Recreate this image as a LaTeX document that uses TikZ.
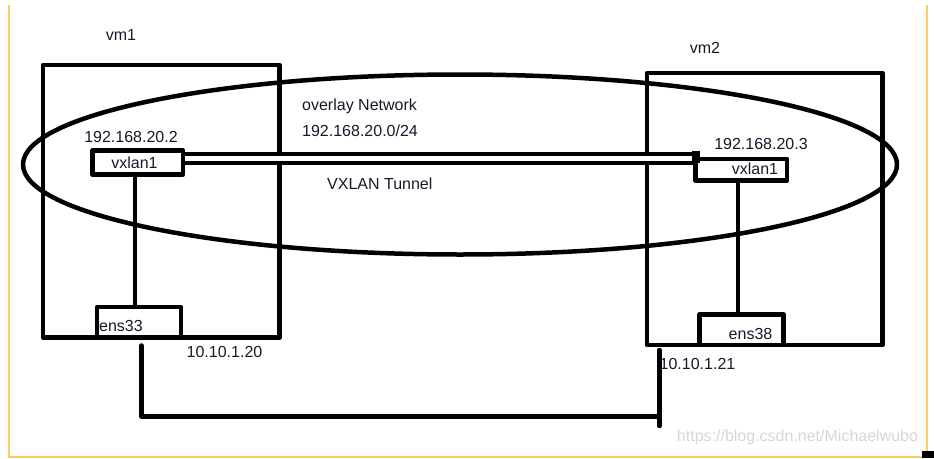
\documentclass[tikz,border=0pt]{standalone}
\usepackage{fontspec}
\setmainfont{Liberation Sans}
\usepackage{xcolor}
\usepackage{tikz}
\usetikzlibrary{calc}
\definecolor{frameyellow}{RGB}{250,206,92}
\definecolor{labelink}{RGB}{22,24,44}
\definecolor{markgray}{RGB}{214,214,214}

\begin{document}
\begin{tikzpicture}[x=1pt,y=-1pt,line join=round,
  vmbox/.style={draw,rectangle,line width=4.5pt,inner sep=0pt},
  ifbox/.style={draw,rectangle,line width=4.5pt,inner sep=0pt},
  lbl/.style={inner sep=0pt,anchor=base,text=labelink,font=\fontsize{16}{19}\selectfont},
  wire/.style={line width=4.5pt,line cap=round}]
  \useasboundingbox (0,0) rectangle (934,458);
  \coordinate (OV) at (460,164.5);
  \coordinate (U1) at (141.5,345.5);
  \coordinate (U2) at (659.3,416.5);
  \coordinate (U3) at (659.3,350);
  \coordinate (U4) at (659.3,426);
  \draw[frameyellow,line width=1.8pt] (9,5) -- (9,457) -- (927,457) -- (927,5);
  \fill (921.5,450.5) rectangle (934,458);
  \node[vmbox,minimum width=236.5pt,minimum height=272.5pt] (VM1) at (161.25,201.25) {};
  \node[vmbox,minimum width=235.5pt,minimum height=272pt] (VM2) at (764.75,209) {};
  \node[ifbox,minimum width=90.5pt,minimum height=24pt] (VX1) at (137.75,162.5) {};
  \node[ifbox,minimum width=91.5pt,minimum height=21.5pt] (VX2) at (741.25,169.75) {};
  \node[ifbox,minimum width=84pt,minimum height=30.5pt] (EN1) at (139,322.25) {};
  \node[ifbox,minimum width=83.6pt,minimum height=30.7pt] (EN2) at (741.5,329.65) {};
  \draw[line width=4.5pt] (OV) ellipse [x radius=437pt, y radius=90pt];
  \draw[line width=4pt,double,double distance=5pt] ($(VX1.east)+(0,-4)$) -- ($(VX2.west |- VX1.east)+(4,-4)$);
  \fill ($(VX2.north west)+(-1.5,-6)$) rectangle ++(8,12);
  \draw[wire,line cap=butt] ([xshift=-2.75pt]VX1.south) -- ([xshift=-2.75pt]VX1.south |- EN1.north);
  \draw[wire,line cap=butt] ([xshift=-3.25pt]VX2.south) -- ([xshift=-3.25pt]VX2.south |- EN2.north);
  \draw[wire] (U1) |- (U2);
  \draw[wire] (U3) -- (U4);
  \node[lbl] (vmA) at (121,40.5) {vm1};
  \node[lbl] (vmB) at (705,53.3) {vm2};
  \node[lbl] (ipA) at (131,142.7) {192.168.20.2};
  \node[lbl] (ipB) at (761,149) {192.168.20.3};
  \node[lbl] (vxA) at (134.5,168.3) {vxlan1};
  \node[lbl] (vxB) at (755,174) {vxlan1};
  \node[lbl,anchor=base west] (ovl) at (302,110.7) {overlay Network};
  \node[lbl,anchor=base west] (net) at (302,136.7) {192.168.20.0/24};
  \node[lbl,anchor=base west] (tun) at (327,189.3) {VXLAN Tunnel};
  \node[lbl,anchor=base west] (enA) at (99,331.7) {ens33};
  \node[lbl] (enB) at (750.5,339.3) {ens38};
  \node[lbl] (ulA) at (224.5,357.3) {10.10.1.20};
  \node[lbl] (ulB) at (697.5,369.3) {10.10.1.21};
  \node[lbl,text=markgray] (wm) at (797.5,441.7) {https://blog.csdn.net/Michaelwubo};
\end{tikzpicture}
\end{document}
